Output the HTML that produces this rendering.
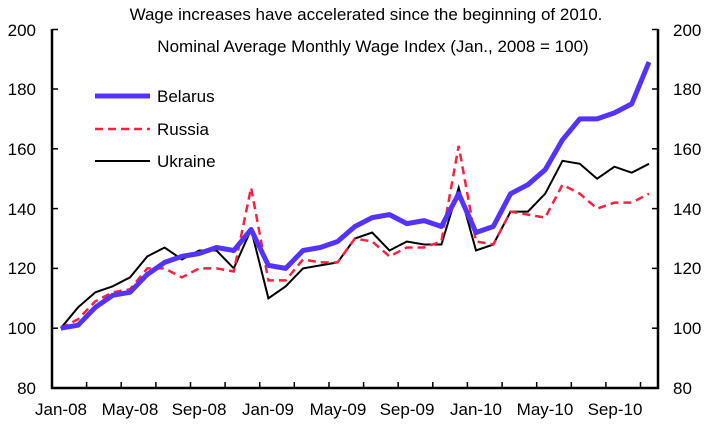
<!DOCTYPE html>
<html><head><meta charset="utf-8"><style>body{margin:0;background:#fff}svg{display:block}text{font-family:"Liberation Sans",Arial,sans-serif;fill:#000}</style></head>
<body>
<svg width="707" height="430" viewBox="0 0 707 430" xmlns="http://www.w3.org/2000/svg">
<text x="366" y="20" font-size="17" text-anchor="middle">Wage increases have accelerated since the beginning of  2010.</text>
<text x="373" y="52" font-size="17" text-anchor="middle">Nominal Average Monthly Wage Index (Jan., 2008 = 100)</text>
<g stroke="#000" stroke-width="2.5" fill="none">
<line x1="52" y1="29" x2="52" y2="389"/>
<line x1="658" y1="29" x2="658" y2="389"/>
<line x1="51" y1="388" x2="659" y2="388"/>
</g>
<g stroke="#000" stroke-width="1.5">
<line x1="52" y1="328.2" x2="58" y2="328.2"/><line x1="652" y1="328.2" x2="658" y2="328.2"/>
<line x1="52" y1="268.4" x2="58" y2="268.4"/><line x1="652" y1="268.4" x2="658" y2="268.4"/>
<line x1="52" y1="208.6" x2="58" y2="208.6"/><line x1="652" y1="208.6" x2="658" y2="208.6"/>
<line x1="52" y1="148.8" x2="58" y2="148.8"/><line x1="652" y1="148.8" x2="658" y2="148.8"/>
<line x1="52" y1="89" x2="58" y2="89"/><line x1="652" y1="89" x2="658" y2="89"/>
<line x1="52" y1="29.5" x2="58" y2="29.5"/><line x1="652" y1="29.5" x2="658" y2="29.5"/>
<line x1="86.6" y1="388" x2="86.6" y2="382"/><line x1="121.2" y1="388" x2="121.2" y2="382"/><line x1="155.9" y1="388" x2="155.9" y2="382"/><line x1="190.5" y1="388" x2="190.5" y2="382"/><line x1="225.1" y1="388" x2="225.1" y2="382"/><line x1="259.7" y1="388" x2="259.7" y2="382"/><line x1="294.3" y1="388" x2="294.3" y2="382"/><line x1="329" y1="388" x2="329" y2="382"/><line x1="363.6" y1="388" x2="363.6" y2="382"/><line x1="398.2" y1="388" x2="398.2" y2="382"/><line x1="432.8" y1="388" x2="432.8" y2="382"/><line x1="467.4" y1="388" x2="467.4" y2="382"/><line x1="502.1" y1="388" x2="502.1" y2="382"/><line x1="536.7" y1="388" x2="536.7" y2="382"/><line x1="571.3" y1="388" x2="571.3" y2="382"/><line x1="605.9" y1="388" x2="605.9" y2="382"/><line x1="640.5" y1="388" x2="640.5" y2="382"/>
</g>
<g font-size="17">
<g text-anchor="end">
<text x="36" y="394">80</text><text x="36" y="334">100</text><text x="36" y="274">120</text><text x="36" y="215">140</text><text x="36" y="155">160</text><text x="36" y="95">180</text><text x="36" y="36">200</text>
</g>
<text x="673" y="394">80</text><text x="673" y="334">100</text><text x="673" y="274">120</text><text x="673" y="215">140</text><text x="673" y="155">160</text><text x="673" y="95">180</text><text x="673" y="36">200</text>
<g text-anchor="middle">
<text x="61" y="415">Jan-08</text><text x="130" y="415">May-08</text><text x="199" y="415">Sep-08</text><text x="268" y="415">Jan-09</text><text x="338" y="415">May-09</text><text x="407" y="415">Sep-09</text><text x="476" y="415">Jan-10</text><text x="545" y="415">May-10</text><text x="615" y="415">Sep-10</text>
</g>
</g>
<g transform="translate(-1.2,0)">
<polyline fill="none" stroke="#000" stroke-width="2" points="62,328.2 79.3,307.3 96.6,292.3 113.9,286.3 131.2,277.4 148.5,256.4 165.8,247.5 183.1,259.4 200.4,250.5 217.7,250.5 235,268.4 252.3,229.5 269.6,298.3 286.9,286.3 304.2,268.4 321.5,265.4 338.8,262.4 356.1,238.5 373.4,232.5 390.7,250.5 408,241.5 425.3,244.5 442.6,244.5 459.9,187.7 477.2,250.5 494.5,244.5 511.8,211.6 529.1,211.6 546.4,193.7 563.7,160.8 581,163.8 598.3,178.7 615.6,166.7 632.9,172.7 650.2,163.8"/>
<polyline fill="none" stroke="#ff2040" stroke-width="2.5" stroke-dasharray="8,5" points="62,328.2 79.3,319.2 96.6,301.3 113.9,292.3 131.2,289.3 148.5,268.4 165.8,268.4 183.1,277.4 200.4,268.4 217.7,268.4 235,271.4 252.3,187.7 269.6,280.4 286.9,280.4 304.2,259.4 321.5,262.4 338.8,262.4 356.1,238.5 373.4,241.5 390.7,256.4 408,247.5 425.3,247.5 442.6,241.5 459.9,145.8 477.2,241.5 494.5,244.5 511.8,211.6 529.1,214.6 546.4,217.6 563.7,184.7 581,193.7 598.3,208.6 615.6,202.6 632.9,202.6 650.2,193.7"/>
<polyline fill="none" stroke="#5533ff" stroke-width="5" stroke-linejoin="round" points="62,328.2 79.3,325.2 96.6,307.3 113.9,295.3 131.2,292.3 148.5,274.4 165.8,262.4 183.1,256.4 200.4,253.5 217.7,247.5 235,250.5 252.3,229.5 269.6,265.4 286.9,268.4 304.2,250.5 321.5,247.5 338.8,241.5 356.1,226.5 373.4,217.6 390.7,214.6 408,223.6 425.3,220.6 442.6,226.5 459.9,193.7 477.2,232.5 494.5,226.5 511.8,193.7 529.1,184.7 546.4,169.7 563.7,139.8 581,118.9 598.3,118.9 615.6,112.9 632.9,103.9 650.2,62.1"/>
</g>
<g font-size="17">
<line x1="95" y1="96" x2="150" y2="96" stroke="#5533ff" stroke-width="5"/>
<text x="157" y="102">Belarus</text>
<line x1="95" y1="129" x2="150" y2="129" stroke="#ff2040" stroke-width="2.5" stroke-dasharray="8,5"/>
<text x="157" y="135">Russia</text>
<line x1="95" y1="161" x2="150" y2="161" stroke="#000" stroke-width="2"/>
<text x="157" y="167">Ukraine</text>
</g>
</svg>
</body></html>
